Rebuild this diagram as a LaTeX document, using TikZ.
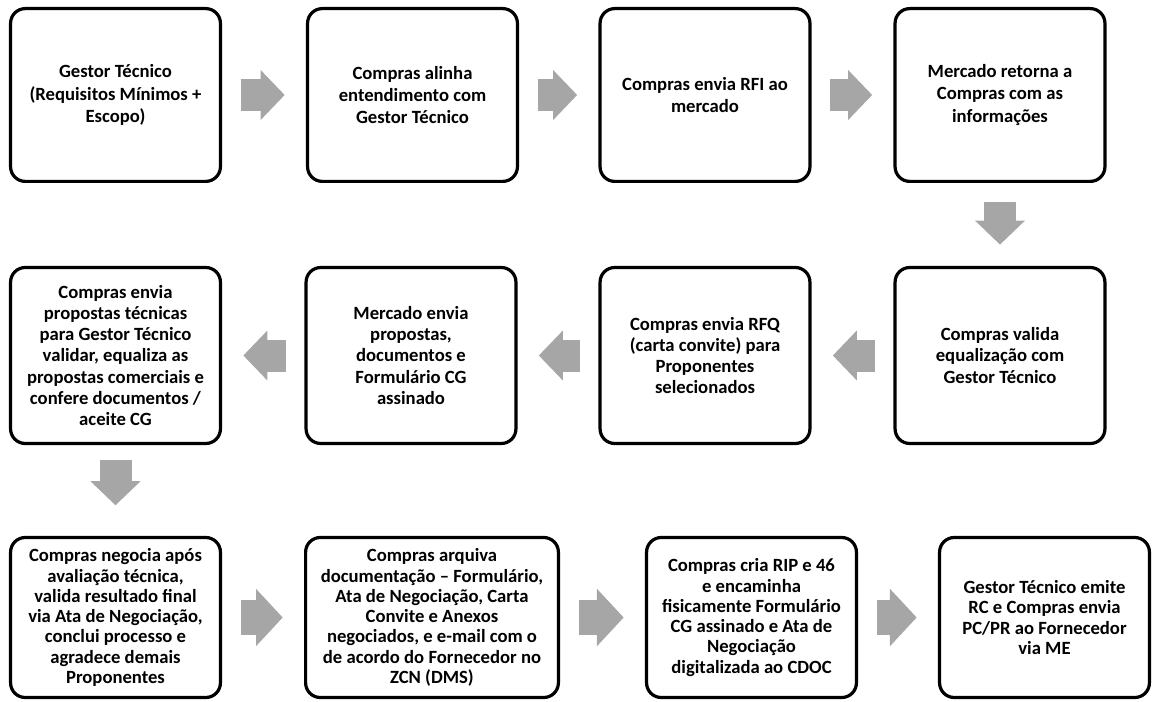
\documentclass[tikz,border=0pt]{standalone}
\usepackage{fontspec}
\setmainfont{Carlito}
\usetikzlibrary{arrows.meta}

\begin{document}
\begin{tikzpicture}[x=0.75pt, y=-0.75pt]
    % settings for this picture
    \tikzset{
      etapa/.style={draw, line width=2.4pt, rounded corners=11pt,
        minimum width=157.4pt, minimum height=129.6pt, inner sep=2pt,
        align=center, font=\bfseries\fontsize{14}{16.8}\selectfont},
      media/.style={minimum height=132pt, font=\bfseries\fontsize{14}{15.9}\selectfont},
      baixa/.style={minimum height=120pt, font=\bfseries\fontsize{14}{15.2}\selectfont},
      larga/.style={minimum width=189.6pt},
      seta/.style={draw=black!35, line width=24pt,
        -{Triangle[length=18pt, width=37.5pt, line width=0pt]},
        shorten <=14pt, shorten >=16pt},
      setagrande/.style={seta, line width=26pt,
        -{Triangle[length=20pt, width=43pt, line width=0pt]}},
    }

    \useasboundingbox (0,0) rectangle (1152,702);

    % first row
    \node[etapa] (gestor) at (115.5,95) {Gestor Técnico\\(Requisitos Mínimos +\\Escopo)};
    \node[etapa] (alinha) at (412.5,95) {Compras alinha\\entendimento com\\Gestor Técnico};
    \node[etapa] (rfi) at (705,95) {Compras envia RFI ao\\mercado};
    \node[etapa] (retorno) at (1000,95) {Mercado retorna a\\Compras com as\\informações};

    % second row
    \node[etapa, media] (valida) at (1000,355.5) {Compras valida\\equalização com\\Gestor Técnico};
    \node[etapa, media] (rfq) at (705,355.5) {Compras envia RFQ\\(carta convite) para\\Proponentes\\selecionados};
    \node[etapa, media] (propostas) at (411,355.5) {Mercado envia\\propostas,\\documentos e\\Formulário CG\\assinado};
    \node[etapa, media] (equaliza) at (115.5,355.5) {Compras envia\\propostas técnicas\\para Gestor Técnico\\validar, equaliza as\\propostas comerciais e\\confere documentos /\\aceite CG};

    % third row
    \node[etapa, baixa] (negocia) at (115.5,617.5) {Compras negocia após\\avaliação técnica,\\valida resultado final\\via Ata de Negociação,\\conclui processo e\\agradece demais\\Proponentes};
    \node[etapa, baixa, larga] (arquiva) at (432,617.5) {Compras arquiva\\documentação – Formulário,\\Ata de Negociação, Carta\\Convite e Anexos\\negociados, e e-mail com o\\de acordo do Fornecedor no\\ZCN (DMS)};
    \node[etapa, baixa] (rip) at (751.5,617.5) {Compras cria RIP e 46\\e encaminha\\fisicamente Formulário\\CG assinado e Ata de\\Negociação\\digitalizada ao CDOC};
    \node[etapa, baixa] (emite) at (1044.5,617.5) {Gestor Técnico emite\\RC e Compras envia\\PC/PR ao Fornecedor\\via ME};

    % arrows
    \draw[seta] (gestor) -- (alinha);
    \draw[seta] (alinha) -- (rfi);
    \draw[seta] (rfi) -- (retorno);
    \draw[seta] (retorno) -- (valida);
    \draw[seta] (valida) -- (rfq);
    \draw[seta] (rfq) -- (propostas);
    \draw[seta] (propostas) -- (equaliza);
    \draw[seta, shorten <=11pt, shorten >=23pt] (equaliza) -- (negocia);
    \draw[setagrande] (negocia) -- (arquiva);
    \draw[setagrande] (arquiva) -- (rip);
    \draw[setagrande] (rip) -- (emite);

\end{tikzpicture}
\end{document}
